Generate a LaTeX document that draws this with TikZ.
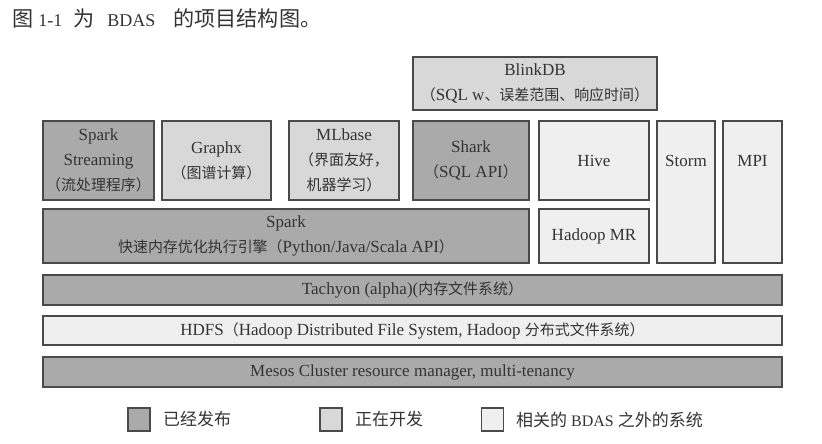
\documentclass[tikz,border=0pt]{standalone}
\usepackage{fontspec}
\setmainfont{Liberation Serif}
\newfontfamily\cjk[Scale=0.88]{Noto Sans CJK SC}
\definecolor{released}{HTML}{AAAAAA}
\definecolor{devel}{HTML}{D8D8D8}
\definecolor{other}{HTML}{EFEFEF}
\definecolor{edge}{HTML}{4A4A4A}
\definecolor{ink}{HTML}{333333}
\begin{document}
\begin{tikzpicture}[x=1pt,y=-1pt,
  box/.style={draw=edge, line width=1.1pt, align=center, inner sep=0pt, text=ink,
    font=\fontsize{17}{25}\selectfont},
  rel/.style={box, fill=released},
  dev/.style={box, fill=devel},
  oth/.style={box, fill=other},
  legsq/.style={draw=edge, line width=1.1pt, minimum width=22pt, minimum height=23pt, inner sep=0pt},
  legtxt/.style={anchor=west, inner sep=0pt, text=ink, font=\fontsize{16}{18}\selectfont}]
\useasboundingbox (0,0) rectangle (822,444);
\node[anchor=west, inner sep=0pt, text=ink, font=\fontsize{18}{22}\selectfont] (title) at (12,18)
  {{\fontsize{24}{26}\selectfont\cjk 图}\hspace{5pt}1-1\hspace{11pt}{\fontsize{24}{26}\selectfont\cjk 为}\hspace{13pt}BDAS\hspace{18pt}{\fontsize{24}{26}\selectfont\cjk 的项目结构图。}};
\node[dev, minimum width=244pt, minimum height=53pt] (blink) at (535,83.5)
  {BlinkDB\\{\cjk （}SQL w{\cjk 、误差范围、响应时间）}};
\node[rel, minimum width=111pt, minimum height=79pt] (stream) at (98.5,160.5)
  {Spark\\Streaming\\{\cjk （流处理程序）}};
\node[dev, minimum width=109pt, minimum height=79pt] (graphx) at (216.5,160.5)
  {Graphx\\{\cjk （图谱计算）}};
\node[dev, minimum width=110pt, minimum height=79pt] (mlbase) at (344,160.5)
  {MLbase\\{\cjk （界面友好，}\\{\cjk 机器学习）}};
\node[rel, minimum width=116pt, minimum height=79pt] (shark) at (471,160.5)
  {Shark\\{\cjk （}SQL API{\cjk ）}};
\node[oth, minimum width=110pt, minimum height=79pt] (hive) at (594,160.5) {Hive};
\node[oth, minimum width=58pt, minimum height=142pt,
  label={[anchor=north, inner sep=0pt, text=ink, font=\fontsize{17}{25}\selectfont, yshift=-35pt]north:Storm}] (storm) at (686,192) {};
\node[oth, minimum width=59pt, minimum height=142pt,
  label={[anchor=north, inner sep=0pt, text=ink, font=\fontsize{17}{25}\selectfont, yshift=-35pt]north:MPI}] (mpi) at (752.5,192) {};
\node[rel, minimum width=486pt, minimum height=54pt] (spark) at (286,236)
  {Spark\\{\cjk 快速内存优化执行引擎（}Python/Java/Scala API{\cjk ）}};
\node[oth, minimum width=110pt, minimum height=54pt] (hmr) at (594,236) {Hadoop MR};
\node[rel, minimum width=739pt, minimum height=30pt] (tachyon) at (412.5,290)
  {Tachyon (alpha)({\cjk 内存文件系统）}};
\node[oth, minimum width=739pt, minimum height=29pt] (hdfs) at (412.5,330.5)
  {HDFS{\cjk （}Hadoop Distributed File System, Hadoop {\cjk 分布式文件系统）}};
\node[rel, minimum width=739pt, minimum height=30pt] (mesos) at (412.5,372)
  {Mesos Cluster resource manager, multi-tenancy};
\node[legsq, fill=released] (l1) at (139,419.5) {};
\node[legtxt] (t1) at (163,419.5) {\fontsize{19.3}{20}\selectfont\cjk 已经发布};
\node[legsq, fill=devel] (l2) at (331,419.5) {};
\node[legtxt] (t2) at (355,419.5) {\fontsize{19.3}{20}\selectfont\cjk 正在开发};
\node[legsq, fill=other] (l3) at (492.5,419.5) {};
\node[legtxt] (t3) at (516,419.5) {{\fontsize{19.3}{20}\selectfont\cjk 相关的} BDAS {\fontsize{19.3}{20}\selectfont\cjk 之外的系统}};
\end{tikzpicture}
\end{document}
